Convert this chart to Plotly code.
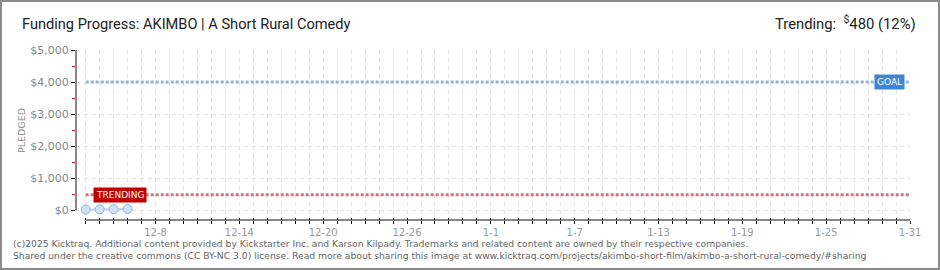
import pandas as pd
import plotly.graph_objects as go

# ---- data ----
axis_start = "2025-12-03"
axis_end = "2026-01-31"
pledge_dates = ["2025-12-03", "2025-12-04", "2025-12-05", "2025-12-06"]
pledge_values = [10, 20, 25, 32]
goal_value = 4000
trending_value = 480
trending_pct = 12
y_ticks = [0, 1000, 2000, 3000, 4000, 5000]
title_text = "Funding Progress: AKIMBO | A Short Rural Comedy"
footer_1 = ("(c)2025 Kicktraq. Additional content provided by Kickstarter Inc. and Karson Kilpady. "
            "Trademarks and related content are owned by their respective companies.")
footer_2 = ("Shared under the creative commons (CC BY-NC 3.0) license. Read more about sharing this image at "
            "www.kicktraq.com/projects/akimbo-short-film/akimbo-a-short-rural-comedy/#sharing")

days = pd.date_range(axis_start, axis_end, freq="D")
first_label = pd.Timestamp("2025-12-08")
tick_text = [f"{d.month}-{d.day}" if d >= first_label and (d - first_label).days % 6 == 0 else "" for d in days]

W, H = 940, 270
L, R, T, B = 76, 910, 50, 220
pw, ph = R - L, B - T
day_px = (910 - 85.7) / 59
x0 = days[0] - pd.Timedelta(days=(85.7 - L) / day_px)
x1 = days[-1]
y_lo = -(B - 210) / 160 * 5000
yr = [y_lo, 5000]

def px(x):
    return (x - L) / pw

def py(y):
    return (B - y) / ph

fig = go.Figure()

# goal line
fig.add_trace(go.Scatter(x=[days[0], days[-1]], y=[goal_value, goal_value], mode="lines",
                         line=dict(color="#8fb2de", width=3, dash="3px,2px"), hoverinfo="skip"))
# trending line
fig.add_trace(go.Scatter(x=[days[0], days[-1]], y=[trending_value, trending_value], mode="lines",
                         line=dict(color="#d27474", width=3, dash="3px,2px"), hoverinfo="skip"))
# pledges
fig.add_trace(go.Scatter(x=pledge_dates, y=pledge_values, mode="lines+markers",
                         line=dict(color="#b9d3f0", width=2),
                         marker=dict(size=9, color="#cfe2f8", line=dict(color="#8eb4e2", width=1))))
# carrier for secondary x axis (inside tick halves)
fig.add_trace(go.Scatter(x=[days[0]], y=[None], xaxis="x2", yaxis="y", showlegend=False, hoverinfo="skip"))

fig.update_layout(
    width=W, height=H, margin=dict(l=L, r=W - R, t=T, b=H - B),
    paper_bgcolor="white", plot_bgcolor="white", showlegend=False,
    font=dict(family="DejaVu Sans", size=10, color="#888"),
    xaxis=dict(type="date", range=[x0, x1], tickvals=list(days), ticktext=tick_text,
               ticks="outside", ticklen=3, tickcolor="#111", tickwidth=1,
               showline=False, zeroline=False, ticklabelstandoff=0,
               showgrid=True, gridcolor="#e4e4e4", griddash="4px,4px", gridwidth=1,
               tickfont=dict(family="DejaVu Sans", size=10, color="#999")),
    xaxis2=dict(type="date", range=[x0, x1], tickvals=list(days), showticklabels=False,
                overlaying="x", anchor="y", side="bottom",
                ticks="inside", ticklen=2, tickcolor="#111", tickwidth=1,
                showgrid=False, zeroline=False, showline=False),
    yaxis=dict(range=yr, tickvals=y_ticks, ticktext=[f"${v:,}" for v in y_ticks],
               ticks="outside", ticklen=4, tickcolor="#111", tickwidth=1,
               showline=False, zeroline=False,
               showgrid=True, gridcolor="#e4e4e4", griddash="4px,4px", gridwidth=1,
               minor=dict(tickvals=[500, 1500, 2500, 3500, 4500], ticks="outside", ticklen=3,
                          tickcolor="#dd2222", showgrid=False),
               tickfont=dict(family="DejaVu Sans", size=11, color="#888")),
)

# axis lines
fig.add_shape(type="line", xref="paper", yref="y", x0=0, x1=0, y0=0, y1=5000,
              line=dict(color="#111", width=1))
fig.add_shape(type="line", xref="x", yref="paper", x0=days[0], x1=days[-1], y0=0, y1=0,
              line=dict(color="#111", width=1))
# border
fig.add_shape(type="rect", xref="paper", yref="paper",
              x0=px(1), x1=px(W - 1), y0=py(H - 1), y1=py(1),
              line=dict(color="#8a8a8a", width=2), fillcolor="rgba(0,0,0,0)", layer="above")

# labels
fig.add_annotation(xref="paper", yref="y", x=px(905), y=goal_value, xanchor="right", yanchor="middle",
                   text="GOAL", showarrow=False, bgcolor="#3b86d6", borderpad=2,
                   font=dict(family="DejaVu Sans", size=9, color="white"))
fig.add_annotation(xref="paper", yref="y", x=px(93), y=trending_value, xanchor="left", yanchor="middle",
                   text="TRENDING", showarrow=False, bgcolor="#c00000", borderpad=2,
                   font=dict(family="DejaVu Sans", size=9, color="white"))
fig.add_annotation(xref="paper", yref="paper", x=px(21), y=py(130), textangle=-90,
                   text="PLEDGED", showarrow=False, xanchor="center", yanchor="middle",
                   font=dict(family="DejaVu Sans", size=9.5, color="#888"))
fig.add_annotation(xref="paper", yref="paper", x=px(20), y=py(24), xanchor="left", yanchor="middle",
                   text=title_text, showarrow=False,
                   font=dict(family="Roboto", size=14.6, color="#222"))
fig.add_annotation(xref="paper", yref="paper", x=px(918), y=py(23), xanchor="right", yanchor="middle",
                   text=f"Trending:  <sup>$</sup>{trending_value} ({trending_pct}%)", showarrow=False,
                   font=dict(family="Roboto", size=14.8, color="#222"))
fig.add_annotation(xref="paper", yref="paper", x=px(11), y=py(243), xanchor="left", yanchor="middle",
                   text=footer_1, showarrow=False,
                   font=dict(family="DejaVu Sans", size=9.2, color="#666"))
fig.add_annotation(xref="paper", yref="paper", x=px(11), y=py(255), xanchor="left", yanchor="middle",
                   text=footer_2, showarrow=False,
                   font=dict(family="DejaVu Sans", size=9.2, color="#666"))

fig.write_html("out.html")
